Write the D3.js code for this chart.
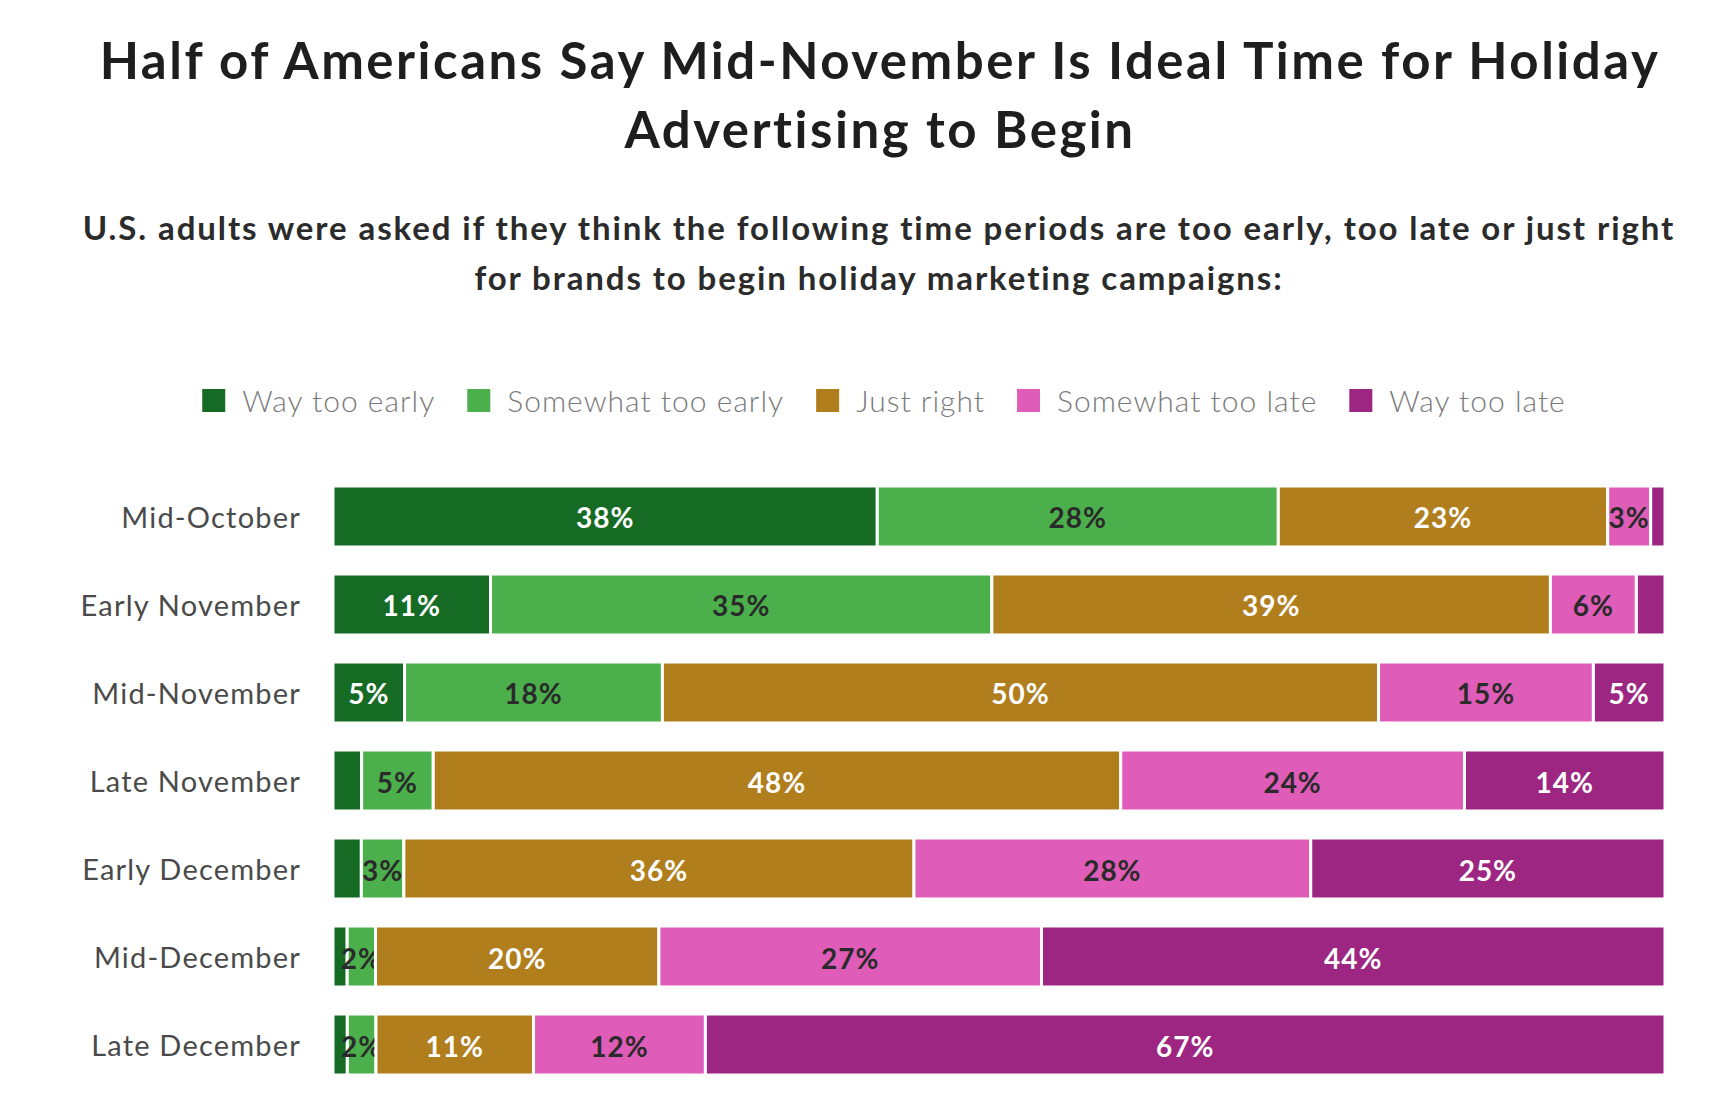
<!DOCTYPE html>
<html>
<head>
<meta charset="utf-8">
<script src="https://cdn.jsdelivr.net/npm/d3@7"></script>
<style>
  body { margin: 0; background: #fff; }
  text { font-family: Lato, "Noto Sans", sans-serif; }
</style>
</head>
<body>
<div id="chart"></div>
<script>
// categories and series
var categories = [
  "Mid-October",
  "Early November",
  "Mid-November",
  "Late November",
  "Early December",
  "Mid-December",
  "Late December",
];
var seriesNames = [
  "Way too early",
  "Somewhat too early",
  "Just right",
  "Somewhat too late",
  "Way too late",
];
var wayTooEarly = [38, 11, 5, 2, 2, 1, 1];
var somewhatTooEarly = [28, 35, 18, 5, 3, 2, 2];
var justRight = [23, 39, 50, 48, 36, 20, 11];
var somewhatTooLate = [3, 6, 15, 24, 28, 27, 12];
var wayTooLate = [1, 2, 5, 14, 25, 44, 67];

var colors = ["#156b24", "#4bb04b", "#b17e1e", "#df5db9", "#9c2681"];
var labelColors = ["#fff", "#2a2a2a", "#fff", "#2a2a2a", "#fff"];
// labels that the chart does not show: [series, category]
var hiddenLabels = [[4, 0], [4, 1], [0, 3], [0, 4], [0, 5], [0, 6]];

var width = 1724,
  height = 1094;
var plot = { left: 333, right: 1665, top: 486, bottom: 1075 };

var svg = d3
  .select("#chart")
  .append("svg")
  .attr("width", width)
  .attr("height", height);

svg.append("rect").attr("width", width).attr("height", height).attr("fill", "#fff");

// title + subtitle
var titleLines = [
  "Half of Americans Say Mid-November Is Ideal Time for Holiday",
  "Advertising to Begin",
];
svg
  .selectAll(".title")
  .data(titleLines)
  .enter()
  .append("text")
  .attr("class", "title")
  .attr("x", 880)
  .attr("y", (d, i) => 79 + i * 69)
  .attr("text-anchor", "middle")
  .style("font-size", "51px")
  .style("font-weight", "bold")
  .style("letter-spacing", "2.5px")
  .attr("fill", "#1e1e1e")
  .text((d) => d);

var subLines = [
  "U.S. adults were asked if they think the following time periods are too early, too late or just right",
  "for brands to begin holiday marketing campaigns:",
];
svg
  .selectAll(".subtitle")
  .data(subLines)
  .enter()
  .append("text")
  .attr("class", "subtitle")
  .attr("x", 879)
  .attr("y", (d, i) => 240 + i * 50)
  .attr("text-anchor", "middle")
  .style("font-size", "33px")
  .style("font-weight", "bold")
  .style("letter-spacing", "1.9px")
  .attr("fill", "#2b2b2b")
  .text((d) => d);

// legend
var legend = svg.append("g");
var items = legend
  .selectAll("g")
  .data(seriesNames)
  .enter()
  .append("g");
items
  .append("rect")
  .attr("width", 23)
  .attr("height", 23)
  .attr("y", 389)
  .attr("fill", (d, i) => colors[i]);
items
  .append("text")
  .attr("x", 40)
  .attr("y", 400)
  .attr("dominant-baseline", "central")
  .style("font-size", "30px")
  .style("font-weight", 300)
  .style("letter-spacing", "1px")
  .attr("fill", "#7a7a7a")
  .text((d) => d);
var lx = 0;
items.each(function () {
  var g = d3.select(this);
  g.attr("transform", "translate(" + lx + ",0)");
  lx += 40 + g.select("text").node().getComputedTextLength() + 32;
});
legend.attr("transform", "translate(" + (884 - (lx - 32) / 2) + ",0)");

// stacked data, normalised per row
var rows = categories.map((c, i) => ({
  cat: c,
  "Way too early": wayTooEarly[i],
  "Somewhat too early": somewhatTooEarly[i],
  "Just right": justRight[i],
  "Somewhat too late": somewhatTooLate[i],
  "Way too late": wayTooLate[i],
}));
var stacked = d3.stack().keys(seriesNames).offset(d3.stackOffsetExpand)(rows);

var x = d3.scaleLinear().domain([0, 1]).range([plot.left, plot.right]);
var y = d3
  .scaleBand()
  .domain(categories)
  .range([plot.top, plot.bottom])
  .paddingInner(0.307)
  .paddingOuter(0);

// category axis
svg
  .append("g")
  .selectAll("text")
  .data(categories)
  .enter()
  .append("text")
  .attr("x", 301)
  .attr("y", (d) => y(d) + y.bandwidth() / 2)
  .attr("text-anchor", "end")
  .attr("dominant-baseline", "central")
  .style("font-size", "29px")
  .style("letter-spacing", "1.2px")
  .attr("fill", "#4a4a4a")
  .text((d) => d);

var layers = svg
  .selectAll(".layer")
  .data(stacked)
  .enter()
  .append("g")
  .attr("class", "layer");

layers
  .selectAll("rect")
  .data((d) => d)
  .enter()
  .append("rect")
  .attr("x", (d) => x(d[0]))
  .attr("y", (d) => y(d.data.cat))
  .attr("width", (d) => Math.max(0, x(d[1]) - x(d[0])))
  .attr("height", y.bandwidth())
  .attr("fill", function (d) {
    return colors[d3.select(this.parentNode).datum().index];
  })
  .attr("stroke", "#fff")
  .attr("stroke-width", 3);

function isHidden(s, c) {
  return hiddenLabels.some((h) => h[0] == s && h[1] == c);
}

layers.each(function (layer) {
  var s = layer.index;
  d3.select(this)
    .selectAll("text")
    .data(layer.filter((d, c) => !isHidden(s, c)))
    .enter()
    .append("text")
    .attr("x", (d) => (x(d[0]) + x(d[1])) / 2)
    .attr("y", (d) => y(d.data.cat) + y.bandwidth() / 2 + 1)
    .attr("text-anchor", "middle")
    .attr("dominant-baseline", "central")
    .style("font-size", "28px")
    .style("font-weight", "bold")
    .style("letter-spacing", "1px")
    .attr("fill", labelColors[s])
    .text((d) => d.data[seriesNames[s]] + "%");
});
</script>
</body>
</html>
